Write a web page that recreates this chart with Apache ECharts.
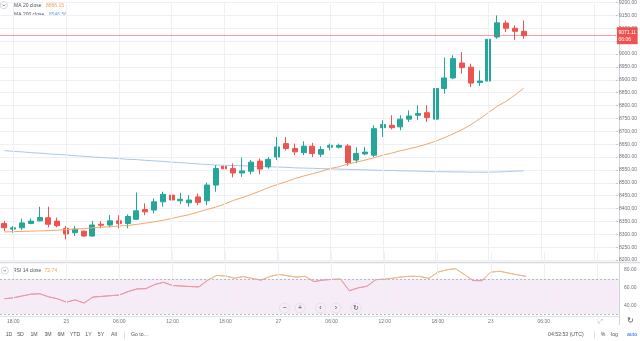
<!DOCTYPE html>
<html>
<head>
<meta charset="utf-8">
<script src="https://cdn.jsdelivr.net/npm/echarts@6/dist/echarts.min.js"></script>
<style>
  html, body { margin: 0; padding: 0; background: #ffffff; }
  #chart { width: 640px; height: 341px; }
</style>
</head>
<body>
<div id="chart"></div>
<script>
// Hourly BTC/USD candles, 25th 17:00 UTC through the 28th (empty slots to 14:00 are future bars)
const hours = [
  '17:00','18:00','19:00','20:00','21:00','22:00','23:00',
  '26','01:00','02:00','03:00','04:00','05:00','06:00','07:00','08:00','09:00','10:00','11:00',
  '12:00','13:00','14:00','15:00','16:00','17:00','18:00','19:00','20:00','21:00','22:00','23:00',
  '27','01:00','02:00','03:00','04:00','05:00','06:00','07:00','08:00','09:00','10:00','11:00',
  '12:00','13:00','14:00','15:00','16:00','17:00','18:00','19:00','20:00','21:00','22:00','23:00',
  '28','01:00','02:00','03:00','04:00','05:00','06:00','07:00','08:00','09:00','10:00','11:00',
  '12:00','13:00','14:00'
];

const open  = [8342,8320,8325,8342,8352,8364,8351,8323,8306,8312,8293,8339,8336,8352,8342,8358,8396,8394,8426,8452,
               8430,8422,8445,8430,8491,8564,8555,8538,8545,8584,8562,8600,8652,8633,8617,8642,8611,8638,8638,8643,
               8588,8612,8607,8714,8723,8717,8747,8762,8772,8747,8866,8907,8965,8949,8889,8895,9066,9120,9100,9088];
const close = [8325,8325,8344,8351,8365,8339,8333,8301,8320,8293,8336,8335,8352,8342,8369,8391,8387,8426,8455,8433,
               8436,8433,8424,8491,8555,8554,8538,8546,8580,8553,8591,8639,8633,8620,8642,8614,8629,8645,8645,8578,
               8614,8619,8710,8726,8714,8747,8759,8769,8753,8866,8907,8982,8947,8887,8895,9057,9121,9100,9088,9071.11];
const low   = [8312,8306,8316,8339,8350,8327,8327,8280,8293,8290,8290,8323,8327,8323,8323,8355,8374,8381,8407,8424,
               8417,8407,8413,8413,8465,8542,8521,8523,8533,8533,8555,8588,8626,8607,8607,8600,8600,8626,8633,8566,
               8576,8607,8600,8678,8707,8704,8736,8743,8736,8743,8846,8902,8924,8872,8876,8891,9059,9085,9055,9059];
const high  = [8352,8332,8361,8361,8407,8407,8365,8332,8332,8315,8352,8351,8374,8374,8377,8462,8420,8439,8465,8458,
               8461,8452,8458,8501,8568,8603,8575,8598,8588,8594,8600,8678,8678,8652,8661,8655,8642,8652,8652,8650,
               8637,8639,8723,8743,8762,8762,8781,8801,8801,8882,8986,8995,9007,8962,8936,9075,9150,9130,9111,9130];

// Moving averages of the close
const ma20  = [8309,8310,8311,8312,8313,8314,8316,8318,8320,8322,8325,8327,8329,8332,8334,8338,8343,8348,8354,8361,
               8369,8376,8386,8396,8405,8417,8431,8442,8454,8467,8481,8493,8504,8516,8526,8535,8544,8555,8562,8572,
               8580,8588,8597,8607,8615,8624,8632,8640,8650,8661,8675,8690,8706,8725,8748,8772,8797,8816,8840,8866.15];
const ma200 = [8625,8622,8620,8617,8615,8612,8610,8608,8605,8603,8600,8598,8596,8594,8591,8590,8587,8585,8583,8580,
               8578,8576,8573,8571,8569,8568,8567,8566,8564,8563,8562,8561,8560,8558,8557,8556,8555,8554,8553,8552,
               8551,8550,8549,8548,8548,8546,8546,8545,8544,8543,8543,8542,8542,8541,8541,8541,8542,8543,8545,8546.56];

// RSI(14) of the close
const rsi14 = [47.4,48.3,50.5,52.5,53.0,49.5,47.3,43.5,46.0,42.5,49.2,50.0,50.8,51.6,55.5,58.5,58.8,63.5,66.0,62.4,
               61.8,61.2,60.8,68.5,73.8,73.2,70.7,72.5,70.5,68.5,72.5,75.0,73.5,72.0,72.8,66.8,68.5,69.3,69.8,56.4,
               59.7,61.5,69.0,69.7,70.8,72.3,72.9,72.6,70.5,77.5,80.2,81.5,75.0,68.0,67.8,77.5,78.6,76.5,74.5,72.74];

const rsiBand = [30, 70];
const rsiLabels = [40, 60, 80];
const countdown = '06:06';
const clock = '04:53:53 (UTC)';
const ranges = ['1D','5D','1M','3M','6M','YTD','1Y','5Y','All'];

const FONT = '"Liberation Sans", Arial, sans-serif';
const UP = '#26a69a', DOWN = '#ef5350';
const GRID_LINE = '#eef0f5';
const AXIS_TEXT = '#6f727c';
const RSI_HIGH = '#ebb98c', RSI_LOW = '#e89aa4';

const candles = open.map((o, i) => [o, close[i], low[i], high[i]]);
const isTimeTick = h => h.length === 2 || h === '06:00' || h === '12:00' || h === '18:00';
const tickIdx = hours.map((h, i) => isTimeTick(h) ? i : -1).filter(i => i >= 0);
const last = a => a[a.length - 1];
const vGridLine = i => ({ xAxis: i, lineStyle: { color: GRID_LINE, width: 1, type: 'solid' }, label: { show: false } });

const chart = echarts.init(document.getElementById('chart'), null, { renderer: 'canvas' });

function chevron(cx, cy) {
  return [
    { type: 'circle', shape: { cx: cx, cy: cy, r: 3.6 }, style: { fill: '#fff', stroke: '#c9ccd4', lineWidth: 0.8 } },
    { type: 'polyline', shape: { points: [[cx - 1.4, cy - 0.6], [cx, cy + 0.8], [cx + 1.4, cy - 0.6]] },
      style: { stroke: '#50535e', lineWidth: 0.7, fill: null } }
  ];
}
function txt(x, y, s, color, size, align) {
  return { type: 'text', x: x, y: y, silent: true,
    style: { text: s, fill: color, font: (size || 5) + 'px ' + FONT, textAlign: align || 'left', textVerticalAlign: 'middle' } };
}
function navBtn(x, y, glyph) {
  return [
    { type: 'circle', shape: { cx: x, cy: y, r: 5 }, style: { fill: 'rgba(255,255,255,0.85)', stroke: '#e3e5ea', lineWidth: 0.6 } },
    txt(x, y, glyph, '#3d404a', 7, 'center')
  ];
}

const graphics = [].concat(
  // pane separator, price-axis border
  [{ type: 'line', shape: { x1: 0, y1: 262.5, x2: 640, y2: 262.5 }, style: { stroke: '#d6d8de', lineWidth: 1.5 }, silent: true },
   { type: 'line', shape: { x1: 619.5, y1: 0, x2: 619.5, y2: 325 }, style: { stroke: '#d1d4dc', lineWidth: 1 }, silent: true }],
  // indicator legends
  chevron(3.8, 5.2),
  [txt(14, 5.2, 'MA 20 close', '#50535e', 5), txt(46, 5.2, last(ma20).toFixed(2), '#f0a050', 5),
   txt(14, 15, 'MA 200 close', '#50535e', 5), txt(49, 15, last(ma200).toFixed(2), '#6aa6de', 5)],
  chevron(4.8, 270.5),
  [txt(13, 270.5, 'RSI 14 close', '#50535e', 5), txt(44.5, 270.5, last(rsi14).toFixed(2), '#f0a050', 5)],
  // navigation buttons
  navBtn(284.5, 308, '−'), navBtn(300, 308, '+'), navBtn(320.5, 308, '‹'), navBtn(336, 308, '›'), navBtn(356, 308, '↻'),
  // scale icons
  [txt(600, 321, '⤢', '#9598a1', 6, 'center'), txt(630, 321, '↻', '#50535e', 8, 'center')],
  // bottom toolbar
  ranges.map((r, i) => txt([9, 20.5, 34, 48, 61, 75, 88.5, 101, 114][i], 335, r, '#50535e', 5.2, 'center')),
  [{ type: 'line', shape: { x1: 124.5, y1: 331, x2: 124.5, y2: 339 }, style: { stroke: '#e0e3eb', lineWidth: 1 }, silent: true },
   txt(131, 335, 'Go to...', '#50535e', 5.2),
   txt(548, 335, clock, '#50535e', 5.2),
   { type: 'line', shape: { x1: 594.5, y1: 331, x2: 594.5, y2: 339 }, style: { stroke: '#e0e3eb', lineWidth: 1 }, silent: true },
   txt(603, 335, '%', '#50535e', 5.2, 'center'), txt(614.5, 335, 'log', '#50535e', 5.2, 'center'),
   txt(632, 335, 'auto', '#2962ff', 5.2, 'center')]
);

const option = {
  animation: false,
  backgroundColor: '#ffffff',
  textStyle: { fontFamily: FONT },
  grid: [
    { left: 0, right: 21, top: 2, height: 258 },
    { left: 0, right: 21, top: 252.4, height: 70.4 }
  ],
  xAxis: [
    { type: 'category', gridIndex: 0, data: hours, boundaryGap: true,
      axisLine: { show: false }, axisTick: { show: false }, axisLabel: { show: false }, splitLine: { show: false } },
    { type: 'category', gridIndex: 1, data: hours, boundaryGap: true, offset: -6.8,
      axisLine: { show: true, lineStyle: { color: '#e0e3eb', width: 1 } }, axisTick: { show: false },
      axisLabel: { interval: (i, v) => isTimeTick(v) && i < 64, fontSize: 5, color: AXIS_TEXT, margin: 3 },
      splitLine: { show: false } }
  ],
  yAxis: [
    { type: 'value', gridIndex: 0, position: 'right', min: 8200, max: 9200, interval: 50,
      axisLine: { show: false }, axisTick: { show: true, length: 2, lineStyle: { color: '#c5c8d0' } },
      axisLabel: { fontSize: 5, color: AXIS_TEXT, margin: 3, formatter: v => v.toFixed(2) },
      splitLine: { show: true, lineStyle: { color: GRID_LINE, width: 1 } } },
    { type: 'value', gridIndex: 1, position: 'right', min: 20, max: 100, interval: 20,
      axisLine: { show: false }, axisTick: { show: false },
      axisLabel: { fontSize: 5, color: AXIS_TEXT, margin: 5,
        formatter: v => rsiLabels.indexOf(v) >= 0 ? v.toFixed(2) : '' },
      splitLine: { show: false } }
  ],
  series: [
    { name: 'BTCUSD', type: 'candlestick', xAxisIndex: 0, yAxisIndex: 0, data: candles, barWidth: 5.5, z: 3,
      itemStyle: { color: UP, color0: DOWN, borderColor: UP, borderColor0: DOWN, borderWidth: 1 },
      markLine: {
        silent: true, symbol: ['none', 'none'], animation: false,
        data: tickIdx.map(vGridLine)
          .concat([{ yAxis: last(close),
            lineStyle: { color: 'rgba(239,83,80,0.55)', width: 1, type: 'solid' },
            label: { show: true, position: 'end', distance: 1, formatter: () => last(close).toFixed(2) + '\n' + countdown,
              backgroundColor: DOWN, color: '#ffffff', fontSize: 5, lineHeight: 7, padding: [1.5, 1.5] } }])
      } },
    { name: 'MA 20', type: 'line', xAxisIndex: 0, yAxisIndex: 0, data: ma20, symbol: 'none', z: 4,
      lineStyle: { color: '#f3a868', width: 1 } },
    { name: 'MA 200', type: 'line', xAxisIndex: 0, yAxisIndex: 0, data: ma200, symbol: 'none', z: 2,
      lineStyle: { color: '#a9c9ea', width: 1 } },
    // RSI band and pane grid lines
    { name: 'RSI band', type: 'line', xAxisIndex: 1, yAxisIndex: 1, data: [], z: 1,
      markArea: { silent: true, itemStyle: { color: 'rgba(156,39,176,0.09)' },
        data: [[{ yAxis: rsiBand[0] }, { yAxis: rsiBand[1] }]] },
      markLine: { silent: true, symbol: ['none', 'none'], label: { show: false },
        data: tickIdx.map(vGridLine)
          .concat(rsiBand.map(b => ({ yAxis: b, lineStyle: { color: '#b8bbc4', width: 1, type: [2, 2] } }))) } },
    { name: 'RSI 14', type: 'line', xAxisIndex: 1, yAxisIndex: 1, data: rsi14, symbol: 'none', z: 4,
      lineStyle: { width: 1, color: RSI_HIGH } }
  ],
  graphic: graphics
};

chart.setOption(option);

// colour the RSI line by zone: above the upper band vs inside it
const yBand = chart.convertToPixel({ yAxisIndex: 1 }, rsiBand[1]);
const h = chart.getHeight();
const stop = yBand / h;
chart.setOption({ series: [{}, {}, {}, {}, {
  lineStyle: { color: { type: 'linear', x: 0, y: 0, x2: 0, y2: h, global: true, colorStops: [
    { offset: 0, color: RSI_HIGH }, { offset: stop, color: RSI_HIGH },
    { offset: stop, color: RSI_LOW }, { offset: 1, color: RSI_LOW }] } } }] });
</script>
</body>
</html>
